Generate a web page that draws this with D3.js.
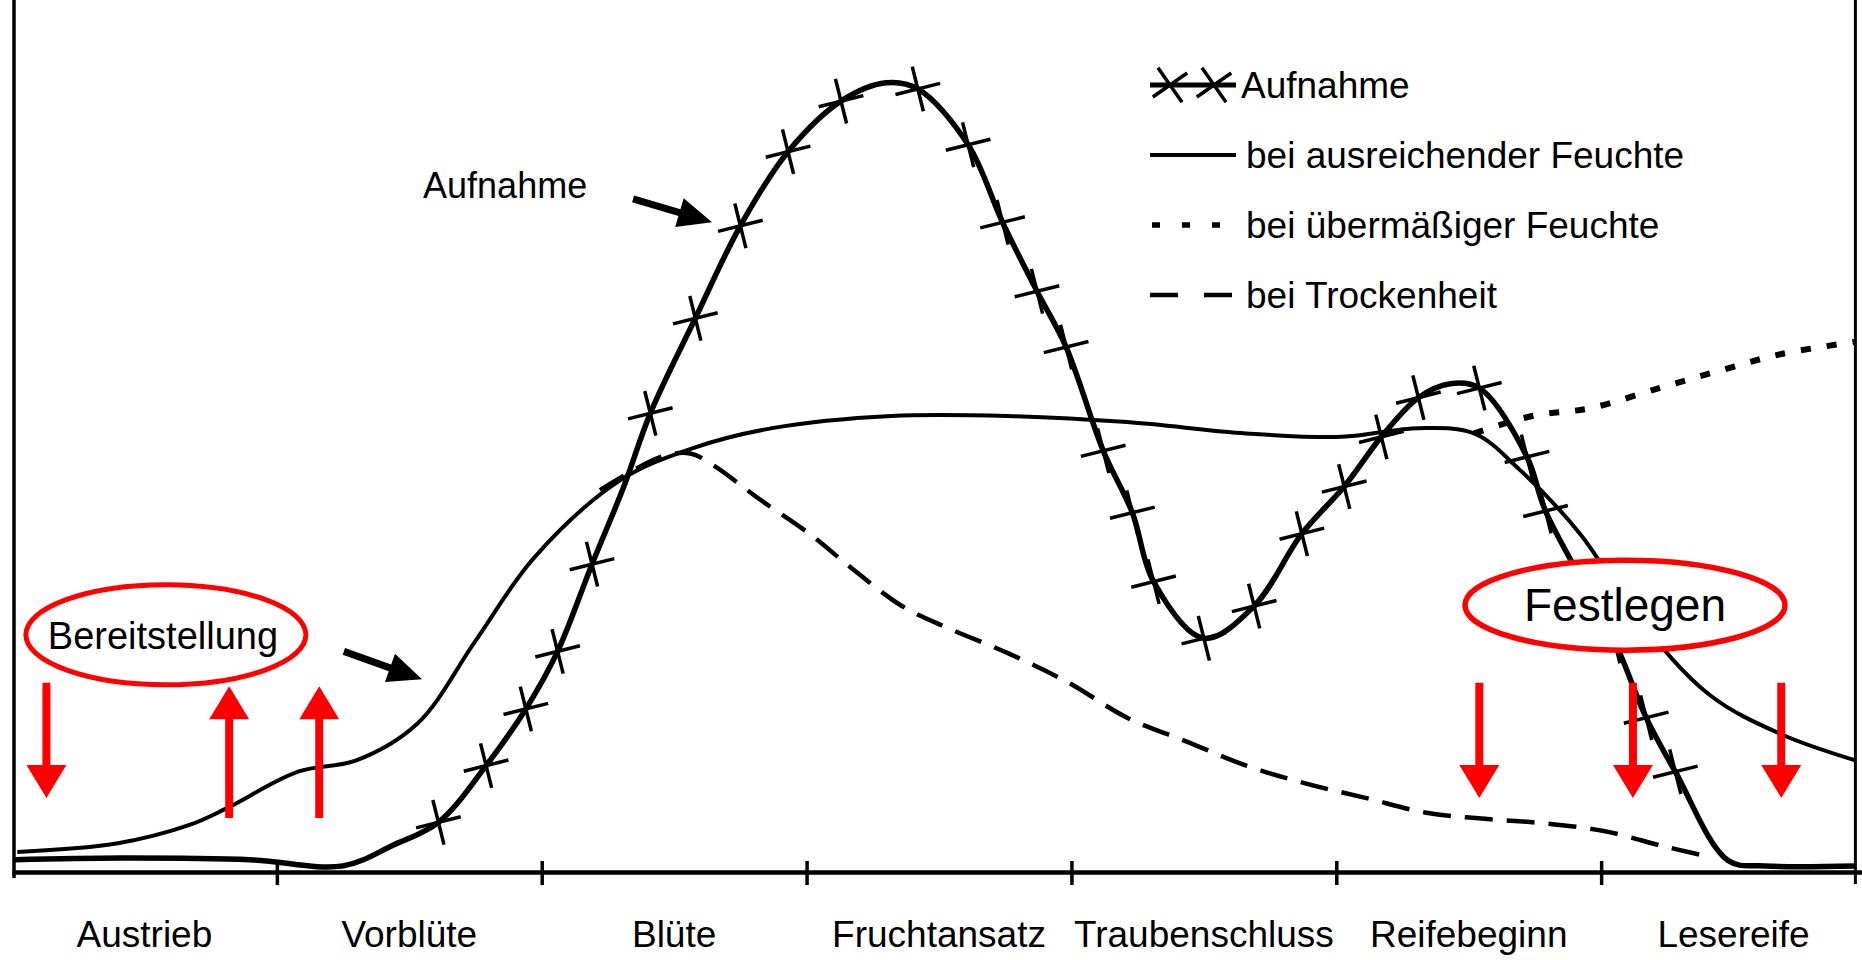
<!DOCTYPE html>
<html>
<head>
<meta charset="utf-8">
<script src="https://cdn.jsdelivr.net/npm/d3@7"></script>
<style>
  body { margin: 0; background: #fff; overflow: hidden; }
  text { font-family: "Liberation Sans", Arial, sans-serif; fill: #000; }
</style>
</head>
<body>
<div id="chart"></div>
<script>
// stages along the x axis (one unit per stage)
var stages = ["Austrieb", "Vorblüte", "Blüte", "Fruchtansatz", "Traubenschluss", "Reifebeginn", "Lesereife"];
var stageTicks = [1, 2, 3, 4, 5, 6];

// Aufnahme curve (x in stage units, y relative 0..100), 1 = drawn with a cross
var aufX = [0.01, 0.41, 0.90, 1.25, 1.44, 1.61, 1.79, 1.94, 2.06, 2.19, 2.31, 2.41, 2.58, 2.75, 2.93, 3.13,
            3.30, 3.42, 3.61, 3.74, 3.87, 3.98, 4.12, 4.23, 4.31, 4.50, 4.69, 4.87, 5.03, 5.17, 5.31,
            5.43, 5.54, 5.72, 5.79, 6.05, 6.17, 6.28, 6.48, 6.62, 6.96];
var aufY = [1.4, 1.6, 1.4, 0.7, 3.1, 5.7, 12.2, 18.7, 25.3, 35.3, 44.2, 52.6, 63.5, 74.1, 82.6, 88.4,
            90.5, 89.8, 83.4, 74.5, 66.6, 60.2, 48.3, 41.2, 33.3, 26.8, 30.5, 38.8, 44.2, 49.9, 54.4,
            56.0, 55.5, 47.6, 41.4, 26.5, 17.7, 11.5, 1.3, 0.7, 0.7];
var aufMark = [0, 0, 0, 0, 0, 1, 1, 1, 1, 1, 0, 1, 1, 1, 1, 1,
               0, 1, 1, 1, 1, 1, 1, 1, 1, 1, 1, 1, 1, 1, 1,
               0, 1, 1, 1, 1, 1, 1, 0, 0, 0];

// bei ausreichender Feuchte
var normX = [0.02, 0.40, 0.67, 0.81, 1.08, 1.30, 1.53, 1.75, 1.97, 2.29, 2.56, 2.87, 3.32, 3.76,
             4.21, 4.66, 5.02, 5.31, 5.52, 5.69, 5.92, 6.14, 6.41, 6.68, 6.96];
var normY = [2.3, 3.3, 5.4, 7.3, 11.5, 12.8, 17.0, 26.5, 36.0, 44.8, 48.5, 50.9, 52.3, 52.3,
             51.6, 50.3, 49.9, 50.9, 50.3, 46.2, 38.8, 29.1, 20.3, 15.8, 12.8];

// bei übermäßiger Feuchte (branches off at Reifebeginn)
var wetX = [5.52, 5.74, 5.96, 6.23, 6.46, 6.68, 6.96];
var wetY = [50.3, 52.3, 53.2, 55.6, 57.6, 59.4, 60.8];

// bei Trockenheit (branches off after Blüte)
var dryX = [2.22, 2.45, 2.56, 2.65, 2.82, 3.01, 3.18, 3.36, 3.54, 3.76, 3.99, 4.21, 4.44, 4.66,
            4.89, 5.11, 5.34, 5.56, 5.78, 6.01, 6.23, 6.37];
var dryY = [43.8, 47.6, 48.0, 46.6, 42.8, 38.8, 34.6, 30.5, 27.9, 25.1, 21.7, 17.7, 14.9, 12.2,
            10.1, 8.5, 6.8, 6.1, 5.6, 4.7, 3.0, 2.0];

var legendLabels = ["Aufnahme", "bei ausreichender Feuchte", "bei übermäßiger Feuchte", "bei Trockenheit"];

// annotations, in the same units as the curves
var redDownX = [0.13, 5.54, 6.12, 6.68];
var redUpX = [0.82, 1.16];

var svgWidth = 1862;
var svgHeight = 960;

var svg = d3.select("#chart")
  .append("svg")
  .attr("width", svgWidth)
  .attr("height", svgHeight);

var x = d3.scaleLinear().domain([0, 7]).range([12, 1866]);
var y = d3.scaleLinear().domain([0, 100]).range([872, 0]);

function pts(xs, ys) {
  return xs.map(function(d, i) { return [d, ys[i]]; });
}

var line = d3.line()
  .x(d => x(d[0]))
  .y(d => y(d[1]))
  .curve(d3.curveCatmullRom.alpha(0.5));

// hand drawn cross: size is the arm length
var crossType = {
  draw: function(context, size) {
    context.moveTo(-size, 0);
    context.lineTo(size, 0);
    context.moveTo(0, -size);
    context.lineTo(0, size);
  }
};

// frame lines left and right
svg.append("line")
  .attr("x1", x(0) + 2).attr("x2", x(0) + 2)
  .attr("y1", 0).attr("y2", y(0) + 6)
  .attr("stroke", "#000").attr("stroke-width", 3.5);
svg.append("line")
  .attr("x1", x(6.96)).attr("x2", x(6.96))
  .attr("y1", 0).attr("y2", y(0) + 12)
  .attr("stroke", "#000").attr("stroke-width", 3);

// x axis
var xAxis = d3.axisBottom(x)
  .tickValues(stageTicks)
  .tickSizeOuter(0)
  .tickFormat("");

var axisG = svg.append("g")
  .attr("transform", `translate(0, ${y(0)})`)
  .call(xAxis);
axisG.select(".domain")
  .attr("stroke", "#000")
  .attr("stroke-width", 4.5);
axisG.selectAll(".tick line")
  .attr("y1", -11)
  .attr("y2", 13)
  .attr("stroke", "#000")
  .attr("stroke-width", 3.5);

svg.append("g").selectAll("text")
  .data(stages)
  .enter()
  .append("text")
  .attr("x", (d, i) => x(i + 0.5))
  .attr("y", y(0) + 75)
  .attr("text-anchor", "middle")
  .attr("font-size", "37px")
  .text(d => d);

// curves
svg.append("path")
  .attr("d", line(pts(dryX, dryY)))
  .attr("fill", "none")
  .attr("stroke", "#000")
  .attr("stroke-width", 4.5)
  .attr("stroke-dasharray", "28,14");

svg.append("path")
  .attr("d", line(pts(wetX, wetY)))
  .attr("fill", "none")
  .attr("stroke", "#000")
  .attr("stroke-width", 6)
  .attr("stroke-dasharray", "10,16");

svg.append("path")
  .attr("d", line(pts(normX, normY)))
  .attr("fill", "none")
  .attr("stroke", "#000")
  .attr("stroke-width", 4);

var aufPts = pts(aufX, aufY);
svg.append("path")
  .attr("d", line(aufPts))
  .attr("fill", "none")
  .attr("stroke", "#000")
  .attr("stroke-width", 5.5);

var cross = d3.symbol().type(crossType).size(23);

svg.append("g").selectAll("path")
  .data(aufPts.filter((d, i) => aufMark[i] === 1))
  .enter()
  .append("path")
  .attr("d", cross)
  .attr("transform", d => `translate(${x(d[0])}, ${y(d[1])}) rotate(-14)`)
  .attr("fill", "none")
  .attr("stroke", "#000")
  .attr("stroke-width", 3.5);

// arrow as a filled polygon from (x1,y1) to tip (x2,y2)
function arrowPath(x1, y1, x2, y2, shaft, headW, headL) {
  var dx = x2 - x1, dy = y2 - y1;
  var len = Math.sqrt(dx * dx + dy * dy);
  var ux = dx / len, uy = dy / len;
  var px = -uy, py = ux;
  var bx = x2 - ux * headL, by = y2 - uy * headL;
  var p = [
    [x1 + px * shaft / 2, y1 + py * shaft / 2],
    [bx + px * shaft / 2, by + py * shaft / 2],
    [bx + px * headW / 2, by + py * headW / 2],
    [x2, y2],
    [bx - px * headW / 2, by - py * headW / 2],
    [bx - px * shaft / 2, by - py * shaft / 2],
    [x1 - px * shaft / 2, y1 - py * shaft / 2]
  ];
  return "M" + p.map(d => d.join(",")).join("L") + "Z";
}

// black pointer arrows
svg.append("path")
  .attr("d", arrowPath(x(2.345), y(77.2), x(2.643), y(74.5), 7, 30, 34))
  .attr("fill", "#000");
svg.append("path")
  .attr("d", arrowPath(x(1.253), y(25.3), x(1.548), y(22.1), 7, 30, 34))
  .attr("fill", "#000");

svg.append("text")
  .attr("x", x(1.552))
  .attr("y", y(77.3))
  .attr("font-size", "36px")
  .text("Aufnahme");

// red arrows
redDownX.forEach(function(d) {
  svg.append("path")
    .attr("d", arrowPath(x(d), y(21.7), x(d), y(8.5), 8, 40, 33))
    .attr("fill", "#ff0000");
});
redUpX.forEach(function(d) {
  svg.append("path")
    .attr("d", arrowPath(x(d), y(6.2), x(d), y(21.3), 8, 40, 33))
    .attr("fill", "#ff0000");
});

// red ellipses with labels
svg.append("ellipse")
  .attr("cx", x(0.581)).attr("cy", y(27.2))
  .attr("rx", 140).attr("ry", 50)
  .attr("fill", "#fff")
  .attr("stroke", "#ff0000")
  .attr("stroke-width", 5);
svg.append("text")
  .attr("x", x(0.57))
  .attr("y", y(27.2) + 14)
  .attr("text-anchor", "middle")
  .attr("font-size", "38px")
  .text("Bereitstellung");

svg.append("ellipse")
  .attr("cx", x(6.09)).attr("cy", y(30.6))
  .attr("rx", 160).attr("ry", 45)
  .attr("fill", "#fff")
  .attr("stroke", "#ff0000")
  .attr("stroke-width", 5.5);
svg.append("text")
  .attr("x", x(6.09))
  .attr("y", y(30.6) + 16)
  .attr("text-anchor", "middle")
  .attr("font-size", "46px")
  .text("Festlegen");

// legend
var legend = svg.append("g").attr("transform", "translate(1150, 85)");
var rowGap = 70;

legend.selectAll("text")
  .data(legendLabels)
  .enter()
  .append("text")
  .attr("x", (d, i) => i === 0 ? 91 : 96)
  .attr("y", (d, i) => i * rowGap + 13)
  .attr("font-size", "37px")
  .text(d => d);

legend.append("line")
  .attr("x1", 0).attr("x2", 86).attr("y1", 0).attr("y2", 0)
  .attr("stroke", "#000").attr("stroke-width", 5);
legend.selectAll(".lg-cross")
  .data([20, 64])
  .enter()
  .append("path")
  .attr("class", "lg-cross")
  .attr("d", d3.symbol().type(crossType).size(21))
  .attr("transform", d => `translate(${d}, 0) rotate(-35)`)
  .attr("fill", "none")
  .attr("stroke", "#000")
  .attr("stroke-width", 3.5);

legend.append("line")
  .attr("x1", 0).attr("x2", 86).attr("y1", rowGap).attr("y2", rowGap)
  .attr("stroke", "#000").attr("stroke-width", 4);
legend.append("line")
  .attr("x1", 2).attr("x2", 86).attr("y1", rowGap * 2).attr("y2", rowGap * 2)
  .attr("stroke", "#000").attr("stroke-width", 5.5)
  .attr("stroke-dasharray", "8,22");
legend.append("line")
  .attr("x1", 0).attr("x2", 84).attr("y1", rowGap * 3).attr("y2", rowGap * 3)
  .attr("stroke", "#000").attr("stroke-width", 4.5)
  .attr("stroke-dasharray", "28,26");
</script>
</body>
</html>
